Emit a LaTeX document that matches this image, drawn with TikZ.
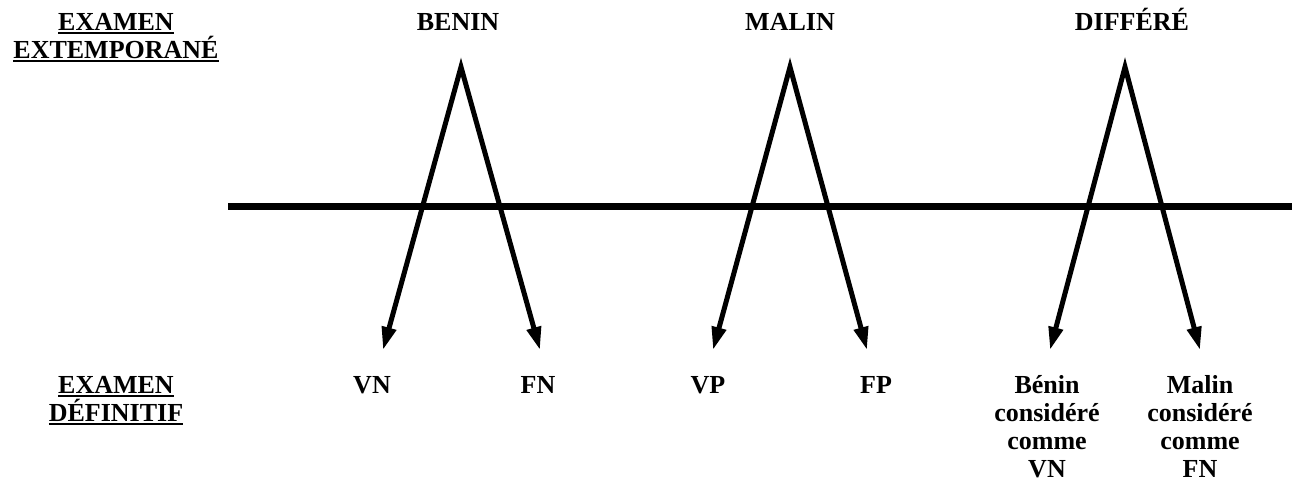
\documentclass[tikz,border=0pt]{standalone}
\usepackage{fontspec}
\setmainfont{Liberation Serif}
\usetikzlibrary{arrows.meta}
\newcommand\ulbox[1]{\setbox0\hbox{#1}\rlap{\copy0}\rule[-3.5pt]{\wd0}{2pt}}
\begin{document}
\begin{tikzpicture}[x=1pt, y=-1pt, font=\fontsize{26}{28}\selectfont\bfseries,
		line join=miter, >={Triangle[length=23pt,width=14pt]},
		lbl/.style={inner sep=0pt, align=center, anchor=base},
		arr/.style={<->, line width=5pt},
		hline/.style={line width=7pt}]
	\useasboundingbox (0,0) rectangle (1292,486);
	% titres (base = derniere ligne)
	\node[lbl] (extemp) at (116,59) {\ulbox{EXAMEN}\\\ulbox{EXTEMPORANÉ}};
	\node[lbl] (definitif) at (116,421) {\ulbox{EXAMEN}\\\ulbox{DÉFINITIF}};
	\node[lbl] (benin) at (458,31) {BENIN};
	\node[lbl] (malin) at (790,31) {MALIN};
	\node[lbl] (differe) at (1132,31) {DIFFÉRÉ};
	% resultats
	\node[lbl] (vn) at (372,393) {VN};
	\node[lbl] (fn) at (538,393) {FN};
	\node[lbl] (vp) at (708,393) {VP};
	\node[lbl] (fp) at (876,393) {FP};
	\node[lbl] (bvn) at (1047,477) {Bénin\\considéré\\comme\\VN};
	\node[lbl] (mfn) at (1200,477) {Malin\\considéré\\comme\\FN};
	% ligne horizontale
	\coordinate (hl) at (228,207);
	\coordinate (hr) at (1292,207);
	\draw[hline] (hl)--(hr);
	% fleches
	\coordinate (aB) at (461,67); \coordinate (tVN) at (383,350); \coordinate (tFN) at (540,350);
	\coordinate (aM) at (790,67); \coordinate (tVP) at (713,350); \coordinate (tFP) at (867,350);
	\coordinate (aD) at (1125,67); \coordinate (tBVN) at (1050,350); \coordinate (tMFN) at (1200,350);
	\draw[arr] (tVN)--(aB)--(tFN);
	\draw[arr] (tVP)--(aM)--(tFP);
	\draw[arr] (tBVN)--(aD)--(tMFN);
\end{tikzpicture}
\end{document}
